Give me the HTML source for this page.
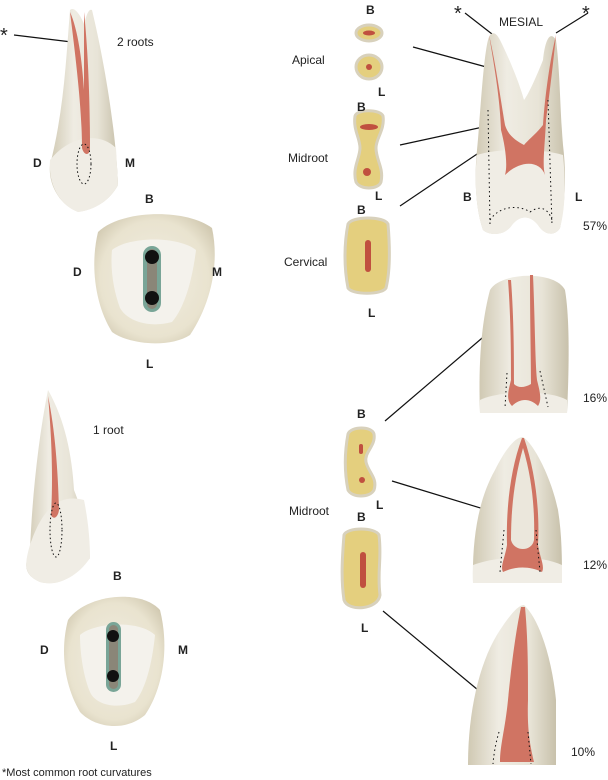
<!DOCTYPE html>
<html><head><meta charset="utf-8"><style>
body{margin:0;background:#fff}
svg{display:block}
text{font-family:"Liberation Sans",sans-serif;fill:#222}
.b{font-weight:bold;font-size:12px}
.n{font-size:12px}
</style></head><body>
<svg width="608" height="780" viewBox="0 0 608 780" xmlns="http://www.w3.org/2000/svg">
<defs>
<linearGradient id="t" x1="0" x2="1"><stop offset="0" stop-color="#d0c9b3"/><stop offset=".35" stop-color="#efece3"/><stop offset=".7" stop-color="#e8e4d7"/><stop offset="1" stop-color="#c8c1ab"/></linearGradient>
<radialGradient id="o" cx=".5" cy=".5" r=".6"><stop offset="0" stop-color="#f1ede2"/><stop offset=".75" stop-color="#e9e3cf"/><stop offset="1" stop-color="#d2cab2"/></radialGradient>
</defs>
<g stroke="#111" stroke-width="1.2" fill="none">
<line x1="14" y1="35" x2="80" y2="43"/>
<line x1="413" y1="47" x2="490" y2="68"/>
<line x1="400" y1="145" x2="483" y2="127"/>
<line x1="400" y1="206" x2="483" y2="150"/>
<line x1="465" y1="13" x2="492" y2="34"/>
<line x1="556" y1="33" x2="588" y2="13"/>
<line x1="385" y1="421" x2="495" y2="327"/>
<line x1="392" y1="481" x2="487" y2="510"/>
<line x1="383" y1="611" x2="478" y2="690"/>
</g>
<!-- tooth 1 -->
<path d="M70 10 C66 60 64 110 50 165 C48 185 60 205 78 212 C95 210 110 200 118 185 C116 130 104 60 92 10 C88 8 86 18 84 24 C80 14 74 6 70 10Z" fill="url(#t)"/>
<path d="M50 160 C70 135 100 132 116 148 L118 185 C110 200 95 210 78 212 C60 205 48 185 50 160Z" fill="#f0ede5"/>
<path d="M70 12 C76 60 82 110 82 148 C84 156 90 156 90 148 C90 100 88 50 84 12 C84 40 84 70 84 90 C82 60 78 30 70 12Z" fill="#d07463"/>
<ellipse cx="84" cy="164" rx="7" ry="20" fill="none" stroke="#111" stroke-dasharray="1.5 2.5"/>
<!-- occlusal 1 -->
<path d="M98 232 C120 210 185 208 212 228 C220 265 210 305 190 335 C170 348 130 345 112 332 C95 305 90 265 98 232Z" fill="url(#o)"/>
<path d="M112 250 C130 236 178 236 196 250 C192 282 184 308 172 322 C150 328 128 322 120 308 C114 292 110 270 112 250Z" fill="#f4f2ec"/>
<rect x="143" y="246" width="18" height="66" rx="9" fill="#79a597"/>
<rect x="147" y="249" width="10" height="60" rx="5" fill="#8a8678"/>
<circle cx="152" cy="257" r="7" fill="#111"/><circle cx="152" cy="298" r="7" fill="#111"/>
<!-- tooth 2 -->
<path d="M48 390 C38 440 32 500 30 550 C24 565 24 575 40 582 C55 586 70 582 90 558 C88 530 80 505 74 490 C72 455 65 420 48 390Z" fill="url(#t)"/>
<path d="M30 545 C45 500 65 495 84 500 C88 520 90 540 90 558 C75 580 55 586 40 582 C24 575 24 565 30 545Z" fill="#f0ede5"/>
<path d="M48 396 C52 440 53 480 51 515 C53 520 58 518 59 510 C58 470 55 430 48 396Z" fill="#d07463"/>
<ellipse cx="56" cy="530" rx="6" ry="27" fill="none" stroke="#111" stroke-dasharray="1.5 2.5"/>
<!-- occlusal 2 -->
<path d="M68 620 C85 595 140 588 160 610 C170 650 162 690 145 715 C125 732 95 728 80 712 C64 685 60 650 68 620Z" fill="url(#o)"/>
<path d="M80 635 C95 622 140 620 155 635 C152 665 145 690 135 702 C115 710 95 704 90 692 C84 678 80 655 80 635Z" fill="#f4f2ec"/>
<rect x="106" y="622" width="15" height="70" rx="7.5" fill="#79a597"/>
<rect x="109" y="625" width="9" height="64" rx="4.5" fill="#8a8678"/>
<circle cx="113" cy="636" r="6" fill="#111"/><circle cx="113" cy="676" r="6" fill="#111"/>
<!-- sections -->
<g stroke="#d8d1bc" stroke-width="3" fill="#e4cf7e">
<ellipse cx="369" cy="33" rx="13" ry="8"/>
<ellipse cx="369" cy="67" rx="13" ry="12"/>
<path d="M355 116 C357 109 380 109 383 116 C385 130 376 138 376 148 C376 160 384 168 381 182 C378 190 360 190 356 182 C352 168 360 158 360 148 C360 138 353 130 355 116Z"/>
<path d="M348 224 C352 216 384 216 388 224 C390 248 390 272 386 288 C382 295 352 295 348 288 C344 268 344 244 348 224Z"/>
<path d="M348 434 C351 426 372 426 374 434 C376 446 364 452 366 462 C368 472 378 478 374 490 C370 498 352 498 348 490 C344 470 345 450 348 434Z"/>
<path d="M344 535 C347 527 375 527 379 535 C382 560 377 570 380 595 C378 610 348 612 344 600 C341 580 342 560 344 535Z"/>
</g>
<g fill="#c0503f">
<ellipse cx="369" cy="33" rx="6" ry="2.5"/><circle cx="369" cy="67" r="3"/>
<ellipse cx="369" cy="127" rx="9" ry="3"/><circle cx="367" cy="172" r="4"/>
<rect x="365" y="240" width="6" height="32" rx="3"/>
<rect x="359" y="444" width="4" height="10" rx="2"/><circle cx="362" cy="480" r="3"/>
<rect x="360" y="552" width="6" height="36" rx="3"/>
</g>
<!-- right tooth top -->
<path d="M488 40 C483 60 480 120 477 150 C474 180 476 210 483 230 C490 236 505 236 512 225 C520 215 530 215 538 225 C545 236 555 236 560 228 C566 200 566 170 563 145 C560 110 560 70 556 40 C550 30 545 40 543 60 C535 80 528 95 524 100 C520 85 510 60 500 40 C495 30 490 32 488 40Z" fill="url(#t)"/>
<path d="M477 155 C500 148 540 148 563 155 C566 185 565 210 560 228 C555 236 545 236 538 225 C530 215 520 215 512 225 C505 236 490 236 483 230 C476 210 474 180 477 155Z" fill="#f0ede5"/>
<path d="M489 35 C495 70 500 100 501 130 C505 145 508 165 505 175 C520 160 540 160 545 175 C542 165 545 145 546 120 C550 90 553 65 556 35 C550 60 545 95 543 125 C535 135 528 140 524 145 C515 140 508 135 505 125 C500 95 495 60 489 35Z" fill="#d07463"/>
<g fill="none" stroke="#111" stroke-dasharray="1.5 3"><path d="M488 110 L490 225"/><path d="M548 100 L552 225"/><path d="M490 220 C500 205 520 205 530 212 C540 205 548 208 552 220"/></g>
<!-- tooth 16 -->
<path d="M480 413 C478 360 482 320 490 290 C500 272 555 270 565 290 C570 320 569 370 567 413Z" fill="url(#t)"/>
<path d="M480 400 C500 390 550 390 567 400 L567 413 L480 413Z" fill="#f0ede5"/>
<path d="M508 280 C511 320 511 360 511 380 C508 392 506 400 512 406 C520 398 530 398 538 406 C542 400 540 392 537 380 C535 360 535 320 533 275 L530 275 C530 320 531 360 531 384 C524 388 518 388 514 384 C514 360 514 320 511 280Z" fill="#d07463"/>
<g fill="none" stroke="#111" stroke-dasharray="1.5 3"><path d="M507 373 L505 408"/><path d="M540 371 L548 407"/></g>
<!-- tooth 12 -->
<path d="M473 583 C472 540 478 500 495 470 C505 450 515 437 523 437 C535 445 552 480 558 510 C562 535 562 560 562 583Z" fill="url(#t)"/>
<path d="M473 565 C500 555 540 555 562 565 L562 583 L473 583Z" fill="#f0ede5"/>
<path d="M522 438 C510 470 506 510 507 545 C505 558 500 566 503 572 C515 566 530 566 542 572 C545 566 540 558 538 545 C540 510 535 470 524 438Z" fill="#d07463"/>
<path d="M523 448 C514 480 511 510 511 540 C514 552 532 552 534 540 C535 510 532 478 523 448Z" fill="#ebe7dc"/>
<g fill="none" stroke="#111" stroke-dasharray="1.5 3"><path d="M504 530 L500 572"/><path d="M536 530 L540 572"/></g>
<!-- tooth 10 -->
<path d="M468 765 C468 710 480 660 500 630 C510 615 518 605 524 605 C540 620 552 660 556 700 L556 765Z" fill="url(#t)"/>
<path d="M521 607 C514 640 510 680 508 700 C505 730 500 745 500 762 L534 762 C530 745 527 730 528 700 C528 670 528 640 525 607Z" fill="#d07463"/>
<g fill="none" stroke="#111" stroke-dasharray="1.5 3"><path d="M499 732 C496 742 494 752 493 764"/><path d="M528 732 L531 764"/></g>
<!-- text -->
<text x="0" y="42" font-size="20">*</text>
<text x="117" y="46" class="n">2 roots</text>
<text x="33" y="167" class="b">D</text><text x="125" y="167" class="b">M</text>
<text x="145" y="203" class="b">B</text><text x="73" y="276" class="b">D</text><text x="212" y="276" class="b">M</text><text x="146" y="368" class="b">L</text>
<text x="93" y="434" class="n">1 root</text>
<text x="113" y="580" class="b">B</text><text x="40" y="654" class="b">D</text><text x="178" y="654" class="b">M</text><text x="110" y="750" class="b">L</text>
<text x="2" y="776" font-size="11">*Most common root curvatures</text>
<text x="366" y="14" class="b">B</text><text x="292" y="64" class="n">Apical</text><text x="378" y="96" class="b">L</text>
<text x="357" y="111" class="b">B</text><text x="288" y="162" class="n">Midroot</text><text x="375" y="200" class="b">L</text>
<text x="357" y="214" class="b">B</text><text x="284" y="266" class="n">Cervical</text><text x="368" y="317" class="b">L</text>
<text x="454" y="20" font-size="20">*</text><text x="582" y="20" font-size="20">*</text>
<text x="499" y="26" class="n">MESIAL</text>
<text x="463" y="201" class="b">B</text><text x="575" y="201" class="b">L</text><text x="583" y="230" class="n">57%</text>
<text x="583" y="402" class="n">16%</text><text x="583" y="569" class="n">12%</text><text x="571" y="756" class="n">10%</text>
<text x="357" y="418" class="b">B</text><text x="376" y="509" class="b">L</text><text x="289" y="515" class="n">Midroot</text>
<text x="357" y="521" class="b">B</text><text x="361" y="632" class="b">L</text>
</svg>
</body></html>
